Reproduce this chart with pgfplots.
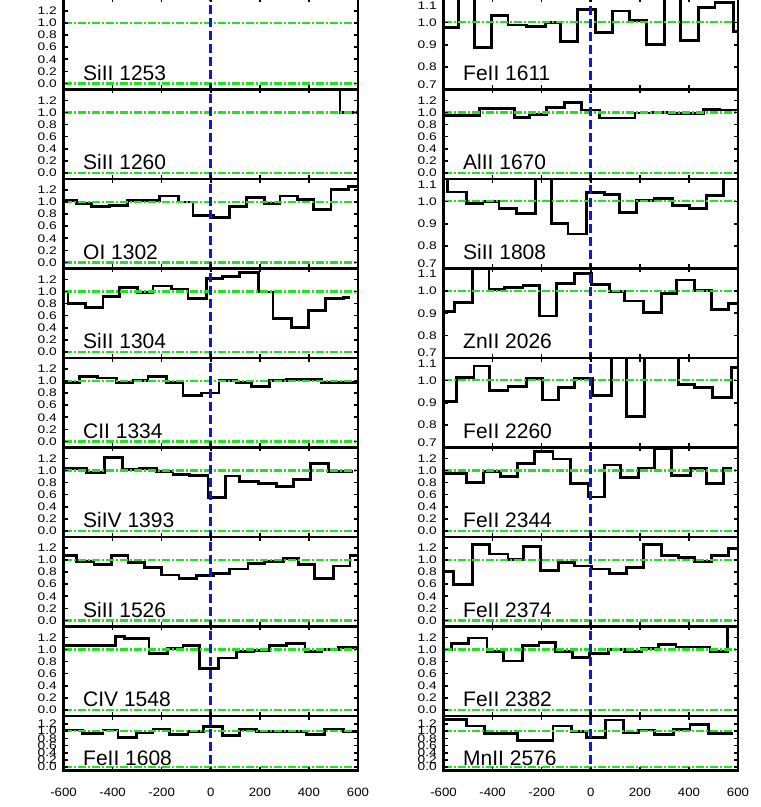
\documentclass[border=0pt]{standalone}
\usepackage{fontspec}
\setmainfont{Liberation Sans}
\newfontfamily\ytfam[FakeStretch=1.25]{Liberation Sans}
\newfontfamily\xtfam[FakeStretch=1.1]{Liberation Sans}
\usepackage{pgfplots}
\pgfplotsset{compat=1.18}
\definecolor{idlgreen}{RGB}{30,230,30}
\definecolor{idlblue}{RGB}{20,20,225}
\newcommand\ytfont{\ytfam\fontsize{11bp}{12bp}\selectfont}
\newcommand\xtfont{\xtfam\fontsize{12bp}{13bp}\selectfont}
\newcommand\labfont{\fontsize{21bp}{24bp}\selectfont}
\pgfplotsset{
  base/.style={scale only axis, width=294.5bp, xmin=-600, xmax=600, anchor=south west, axis on top,
    axis line style={line width=2.7bp}, xtick={-600,-400,-200,0,200,400,600}, xticklabels={},
    tick align=inside, major tick length=4bp, tick style={black, line width=1.6bp},
    yticklabel style={font=\ytfont, anchor=east, inner sep=0pt, xshift=-6.5bp}},
  std/.style={base, height=89.5bp, ymin=-0.1, ymax=1.38, ytick={0,0.2,0.4,0.6,0.8,1.0,1.2},
    yticklabels={0.0,0.2,0.4,0.6,0.8,1.0,1.2}},
  nar/.style={base, height=89.5bp, ymin=0.7, ymax=1.1, ytick={0.8,0.9,1.0}, yticklabels={0.8,0.9,1.0},
    extra y ticks={0.7225,1.0745}, extra y tick labels={0.7,1.1}, extra y tick style={major tick length=0bp}},
  bot/.style={base, height=54.7bp, ymin=-0.1, ymax=1.42, ytick={0,0.2,0.4,0.6,0.8,1.0,1.2},
    yticklabels={0.0,0.2,0.4,0.6,0.8,1.0,1.2}, xticklabels={-600,-400,-200,0,200,400,600},
    xticklabel style={font=\xtfont, anchor=center, inner sep=0pt, yshift=-21.3bp}},
  hist/.style={const plot, black, line width=2.8bp, line join=miter},
  gline/.style={idlgreen, line width=2.2bp, dash pattern=on 8bp off 2bp on 2bp off 2bp},
  bline/.style={idlblue, line width=2.6bp, dash pattern=on 9bp off 4bp},
}
\newcommand\gone{\addplot[gline] coordinates {(-600,1) (600,1)};}
\newcommand\gzero{\addplot[gline] coordinates {(-600,0) (600,0)};}
\newcommand\bl{\addplot[bline] coordinates {(0,-1) (0,2)};}
\newcommand\plabel[2][9bp]{\node[anchor=base west, font=\labfont, inner sep=0pt, xshift=19.5bp, yshift=#1] at (rel axis cs:0,0) {#2};}
\begin{document}
\begin{tikzpicture}
\path[use as bounding box] (0,0) rectangle (761bp,807bp);
% ---------------- left column ----------------
\begin{axis}[std, height=91bp, ymax=1.405, at={(63.5bp,717.5bp)}]
\gone \gzero \bl \plabel{SiII 1253}
\end{axis}
\begin{axis}[std, at={(63.5bp,628bp)}]
\addplot[hist] coordinates {(-600,2.0) (527,1.0) (600,1.0)};
\gone \gzero \bl \plabel{SiII 1260}
\end{axis}
\begin{axis}[std, at={(63.5bp,538.5bp)}]
\addplot[hist] coordinates {(-600,1.03) (-548,0.98) (-487,0.92) (-412,0.94) (-340,1.03) (-276,1.03) (-208,1.10) (-133,1.0) (-72,0.78) (10,0.74) (78,0.92) (146,1.07) (218,0.97) (282,1.10) (354,1.04) (418,0.88) (490,1.20) (561,1.25) (600,1.25)};
\gone \gzero \bl \plabel{OI 1302}
\end{axis}
\begin{axis}[std, at={(63.5bp,449bp)}]
\addplot[hist] coordinates {(-600,1.0) (-582,0.80) (-510,0.74) (-439,0.92) (-371,1.06) (-297,0.98) (-235,1.09) (-161,1.04) (-93,0.89) (-18,1.21) (48,1.25) (118,1.32) (193,0.99) (254,0.55) (329,0.40) (397,0.69) (469,0.88) (540,0.90) (567,0.90)};
\gone \gzero \bl \plabel{SiII 1304}
\end{axis}
\begin{axis}[std, at={(63.5bp,359.5bp)}]
\addplot[hist] coordinates {(-600,0.97) (-535,1.08) (-460,1.05) (-385,0.98) (-317,1.01) (-256,1.07) (-181,0.97) (-113,0.76) (-38,0.80) (34,1.01) (105,0.98) (166,0.91) (241,1.01) (309,1.02) (452,0.98) (520,0.97) (600,0.97)};
\gone \gzero \bl \plabel{CII 1334}
\end{axis}
\begin{axis}[std, at={(63.5bp,270bp)}]
\addplot[hist] coordinates {(-600,1.03) (-505,0.96) (-433,1.22) (-358,1.02) (-290,1.03) (-222,0.98) (-154,0.94) (-86,0.92) (-11,0.55) (61,0.91) (118,0.82) (193,0.79) (268,0.73) (336,0.85) (407,1.12) (479,0.98) (581,0.98)};
\gone \gzero \bl \plabel{SiIV 1393}
\end{axis}
\begin{axis}[std, at={(63.5bp,180.5bp)}]
\addplot[hist] coordinates {(-600,1.07) (-548,0.97) (-476,0.93) (-405,1.07) (-337,0.96) (-269,0.88) (-201,0.75) (-129,0.70) (-59,0.74) (10,0.78) (78,0.85) (152,0.94) (220,0.97) (295,1.02) (356,0.92) (424,0.70) (499,0.90) (567,1.07) (600,1.07)};
\gone \gzero \bl \plabel{SiII 1526}
\end{axis}
\begin{axis}[std, at={(63.5bp,91bp)}]
\addplot[hist] coordinates {(-600,1.06) (-535,1.07) (-388,1.22) (-351,1.18) (-252,0.94) (-177,1.01) (-113,1.06) (-45,0.68) (30,0.86) (105,0.96) (173,0.98) (241,1.06) (309,1.10) (384,0.96) (452,1.0) (520,1.03) (600,1.03)};
\gone \gzero \bl \plabel{CIV 1548}
\end{axis}
\begin{axis}[bot, at={(63.5bp,36.3bp)}]
\addplot[hist] coordinates {(-600,1.03) (-521,0.94) (-439,1.03) (-378,0.82) (-303,0.95) (-235,1.06) (-167,0.91) (-93,0.98) (-31,1.12) (48,0.87) (118,1.05) (186,1.0) (390,0.91) (465,1.06) (540,1.0) (600,1.0)};
\gone \gzero \bl \plabel[5bp]{FeII 1608}
\end{axis}
% ---------------- right column ----------------
\begin{axis}[nar, height=91bp, ymax=1.1067, at={(443.5bp,717.5bp)}]
\addplot[hist] coordinates {(-600,0.976) (-540,1.2) (-473,0.886) (-403,1.029) (-337,0.988) (-263,0.983) (-185,0.998) (-122,0.916) (-54,1.056) (20,0.953) (87,1.051) (159,1.01) (227,0.90) (299,1.2) (367,0.919) (438,1.066) (506,1.089) (581,0.96) (600,0.96)};
\gone \bl \plabel{FeII 1611}
\end{axis}
\begin{axis}[std, at={(443.5bp,628bp)}]
\addplot[hist] coordinates {(-600,0.95) (-453,1.06) (-310,0.92) (-249,0.97) (-181,1.08) (-106,1.17) (-38,1.04) (37,0.91) (180,0.99) (248,1.0) (322,0.98) (459,1.05) (527,1.04) (600,1.04)};
\gone \gzero \bl \plabel{AlII 1670}
\end{axis}
\begin{axis}[nar, at={(443.5bp,538.5bp)}]
\addplot[hist] coordinates {(-600,1.2) (-583,1.042) (-505,0.99) (-439,1.0) (-374,0.967) (-301,0.944) (-224,1.2) (-161,0.90) (-93,0.854) (-18,1.038) (57,1.03) (118,0.95) (186,1.005) (261,1.012) (333,0.982) (401,0.967) (472,1.027) (540,1.2) (600,1.2)};
\gone \bl \plabel{SiII 1808}
\end{axis}
\begin{axis}[nar, at={(443.5bp,449bp)}]
\addplot[hist] coordinates {(-600,0.906) (-555,0.948) (-483,1.2) (-415,1.007) (-351,1.015) (-276,1.025) (-208,0.888) (-140,1.034) (-65,1.078) (3,1.03) (75,0.996) (139,0.955) (214,0.903) (288,0.988) (350,1.049) (424,1.0) (493,0.918) (561,0.945) (600,0.945)};
\gone \bl \plabel{ZnII 2026}
\end{axis}
\begin{axis}[nar, at={(443.5bp,359.5bp)}]
\addplot[hist] coordinates {(-600,0.907) (-548,1.012) (-476,1.064) (-412,0.955) (-337,0.972) (-263,1.007) (-197,0.912) (-133,0.967) (-65,1.007) (7,0.934) (84,1.2) (146,0.837) (220,1.2) (356,0.982) (424,0.967) (497,0.925) (574,1.057) (600,1.057)};
\gone \bl \plabel{FeII 2260}
\end{axis}
\begin{axis}[std, at={(443.5bp,270bp)}]
\addplot[hist] coordinates {(-600,0.95) (-505,0.80) (-437,0.98) (-369,0.90) (-297,1.12) (-229,1.31) (-154,1.19) (-83,0.79) (-11,0.56) (57,1.09) (121,0.88) (193,1.04) (261,1.36) (329,0.92) (407,1.03) (472,0.79) (540,1.03) (574,1.03)};
\gone \gzero \bl \plabel{FeII 2344}
\end{axis}
\begin{axis}[std, at={(443.5bp,180.5bp)}]
\addplot[hist] coordinates {(-600,0.81) (-559,0.59) (-483,1.26) (-412,1.10) (-337,1.01) (-273,1.22) (-205,0.82) (-133,0.96) (-65,0.90) (3,0.85) (75,0.78) (146,0.88) (216,1.25) (288,1.07) (356,1.04) (424,0.97) (493,1.08) (561,1.19) (600,1.19)};
\gone \gzero \bl \plabel{FeII 2374}
\end{axis}
\begin{axis}[std, at={(443.5bp,91bp)}]
\addplot[hist] coordinates {(-600,1.0) (-569,1.10) (-497,1.19) (-423,0.96) (-355,0.81) (-279,1.07) (-211,1.11) (-143,0.96) (-75,0.87) (-4,0.93) (71,1.0) (139,0.96) (207,1.02) (275,1.08) (347,1.04) (486,0.97) (556,1.6) (600,1.6)};
\gone \gzero \bl \plabel{FeII 2382}
\end{axis}
\begin{axis}[bot, at={(443.5bp,36.3bp)}]
\addplot[hist] coordinates {(-600,1.33) (-505,1.14) (-433,0.94) (-297,0.73) (-154,1.14) (-79,0.98) (-18,0.82) (61,1.31) (132,0.95) (193,1.03) (261,0.91) (336,1.05) (404,1.19) (479,0.94) (578,0.94)};
\gone \gzero \bl \plabel[5bp]{MnII 2576}
\end{axis}
\end{tikzpicture}
\end{document}
